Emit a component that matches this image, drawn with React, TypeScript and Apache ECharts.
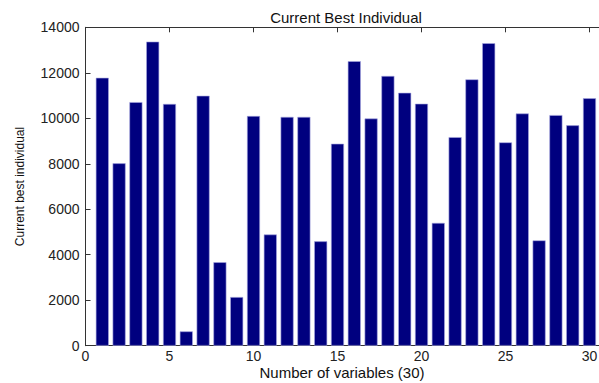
import React, { useEffect, useRef } from "react";
import * as echarts from "echarts";

const variables = [1,2,3,4,5,6,7,8,9,10,11,12,13,14,15,16,17,18,19,20,21,22,23,24,25,26,27,28,29,30];
const bestValues = [11780,8020,10710,13370,10630,630,10990,3670,2140,10100,4890,10060,10060,4590,8880,12510,9990,11860,11120,10640,5400,9170,11710,13300,8940,10210,4630,10140,9690,10880];
const yTicks = [0,2000,4000,6000,8000,10000,12000,14000];
const xTicks = [0,5,10,15,20,25,30];

export default function App() {
  const ref = useRef<HTMLDivElement>(null);
  useEffect(() => {
    const chart = echarts.init(ref.current!, null, { renderer: "svg" });
    const font = "'Liberation Sans', Arial, sans-serif";
    chart.setOption({
      animation: false,
      backgroundColor: "#ffffff",
      title: {
        text: "Current Best Individual",
        left: 341, textAlign: "center", top: 5,
        textStyle: { fontFamily: font, fontSize: 15, fontWeight: "normal", color: "#111" },
      },
      grid: { left: 85.5, top: 27.3, height: 318.4, width: 520.8, outerBoundsMode: "none", containLabel: false },
      xAxis: [
        {
          type: "value", min: 0, max: 31, interval: 5,
          axisLine: { show: true, lineStyle: { color: "#333", width: 1 } },
          axisTick: { show: true, inside: true, length: 5, lineStyle: { color: "#333" } },
          axisLabel: {
            fontFamily: font, fontSize: 14, color: "#222", margin: 3,
            formatter: (v: number) => (xTicks.includes(v) ? String(v) : ""),
          },
          splitLine: { show: false },
        },
        {
          type: "value", position: "top", min: 0, max: 31, interval: 5,
          axisLine: { show: true, lineStyle: { color: "#333", width: 1 } },
          axisTick: { show: true, inside: true, length: 5, lineStyle: { color: "#333" } },
          axisLabel: { show: false },
          splitLine: { show: false },
        },
      ],
      yAxis: {
        type: "value", min: 0, max: 14000, interval: 2000,
        axisLine: { show: true, lineStyle: { color: "#333", width: 1 } },
        axisTick: { show: true, inside: true, length: 5, lineStyle: { color: "#333" } },
        axisLabel: {
          fontFamily: font, fontSize: 14, color: "#222", margin: 6,
          formatter: (v: number) => (yTicks.includes(v) ? String(v) : ""),
        },
        splitLine: { show: false },
        name: "Current best individual",
        nameLocation: "middle", nameGap: 60,
        nameTextStyle: { fontFamily: font, fontSize: 12, color: "#111" },
      },
      graphic: [
        {
          type: "text", x: 342, y: 365,
          style: {
            text: "Number of variables (30)", fontFamily: font, fontSize: 15, fill: "#111",
            textAlign: "center", textVerticalAlign: "top",
          },
        },
      ],
      series: [
        {
          type: "bar",
          xAxisIndex: 0,
          data: variables.map((v, i) => [v, bestValues[i]]),
          barWidth: 13,
          itemStyle: { color: "#00007f", borderColor: "#a8a8e0", borderWidth: 0.6 },
        },
      ],
    });
    return () => chart.dispose();
  }, []);
  return <div ref={ref} style={{ width: 599, height: 383, position: "absolute", left: 0, top: 0 }} />;
}
